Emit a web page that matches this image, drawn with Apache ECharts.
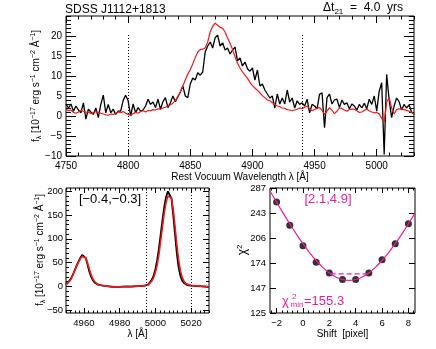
<!DOCTYPE html>
<html>
<head>
<meta charset="utf-8">
<script src="https://cdn.jsdelivr.net/npm/echarts@6/dist/echarts.min.js"></script>
<style>
  html, body { margin: 0; padding: 0; background: #fff; }
  #chart { width: 436px; height: 349px; }
</style>
</head>
<body>
<div id="chart"></div>
<script>
// ---- top panel: broad line, 2 A sampling starting at 4750
var topStart = 4750, topStep = 2;
var topBlack = [
  3.0, 2.0, 3.0, 1.2, 2.5, 1.5, 0.8, 3.3, -0.8, 1.7,
  1.0, 0.4, 2.0, -0.4, 2.9, 5.2, 0.8, 2.9, 0.8, 1.7,
  0.4, 1.2, 1.2, 3.9, 5.2, 3.8, 0.0, 3.0, 0.8, 2.1,
  1.2, 1.5, 2.5, 4.2, 2.9, 3.5, 2.1, 4.2, 1.7, 3.6,
  4.6, 2.1, 3.3, 5.0, 3.6, 4.8, 6.0, 7.5, 5.0, 4.6,
  8.0, 9.5, 9.0, 10.8, 10.2, 11.0, 16.0, 17.5, 18.5, 17.0,
  19.6, 20.2, 17.5, 18.3, 16.5, 17.0, 15.5, 16.5, 17.2, 13.8,
  14.5, 12.5, 13.5, 11.8, 11.2, 12.0, 9.0, 11.5, 7.5, 8.0,
  6.5, 5.5, 4.5, 5.0, 2.0, 5.5, 3.0, 4.5, 3.0, 6.5,
  3.5, 4.5, 2.0, 3.8, 2.9, 3.3, 2.5, 4.2, 0.8, 2.9,
  2.5, 1.8, 5.4, 5.8, -2.9, 4.6, 5.5, 3.0, 4.0, 4.2,
  2.1, 4.0, 2.9, 3.3, 1.8, 3.0, 2.5, 1.5, 2.9, 2.0,
  3.2, 1.8, 4.2, 2.9, 5.0, 1.2, 6.2, 8.3, -9.6, 10.4,
  4.0, -0.4, 2.5, 4.5, 3.6, 1.5, 2.9, 2.0, 2.8, 1.0,
  0.4
];
var topRed = [
  1.7, 1.3, 1.5, 0.9, 0.7, 1.0, 1.4, 1.2, 0.9, 1.0,
  0.6, 0.8, 1.1, 0.9, 0.7, 0.5, 0.3, 0.2, 0.5, 0.4,
  0.7, 1.0, 0.8, 1.1, 0.7, 0.4, 0.2, 0.6, 0.9, 0.7,
  1.1, 1.3, 1.0, 1.4, 1.3, 1.6, 1.5, 1.8, 1.7, 2.0,
  2.2, 2.5, 2.8, 3.2, 3.9, 4.8, 6.0, 7.5, 9.0, 10.5,
  11.6, 13.0, 14.6, 16.0, 16.6, 16.7, 17.0, 18.5, 21.0, 22.4,
  23.2, 22.7, 22.2, 21.9, 21.0, 19.5, 18.2, 16.6, 14.8, 13.2,
  12.0, 11.0, 10.2, 9.4, 8.4, 7.6, 7.0, 6.4, 5.8, 5.1,
  4.6, 4.0, 3.8, 3.3, 2.9, 2.5, 2.3, 2.0, 1.9, 1.6,
  1.5, 1.3, 1.5, 1.7, 2.0, 1.8, 2.2, 2.5, 1.8, 1.3,
  1.6, 2.0, 2.1, 1.5, 0.4, 1.2, 2.1, 1.4, 0.6, 1.2,
  2.0, 1.9, 1.5, 1.2, 1.6, 1.7, 1.7, 1.3, 0.9, 1.0,
  1.4, 1.7, 1.3, 1.0, 0.8, 0.9, 0.5, -0.6, -1.5, 3.5,
  4.6, 2.0, 0.5, 1.6, 1.8, 1.7, 1.6, 1.4, 1.2, 1.0,
  0.4
];
var topMarks = [4800, 4940];
var topMarkRange = [-10, 20.7];
var topXTicks = [4750, 4800, 4850, 4900, 4950, 5000];
var topYTicks = [-10, -5, 0, 5, 10, 15, 20];

// ---- bottom left: [O III] doublet, 1 A sampling starting at 4950
var oStart = 4950, oStep = 1;
var oBlack = [
  4, 7, 12, 18, 26, 35, 44, 52, 60, 66,
  68, 60, 47, 32, 21, 13, 8, 5, 3.5, 2.5,
  2, 1.5, 1, 0.5, 0, -0.5, -1, -1, -1, -1.5,
  -1, -1, -0.5, -0.5, -0.5, 0, -0.5, 0, 0, 0,
  0.5, 0.5, 0.5, 1, 1.5, 2, 4, 8, 14, 22,
  36, 55, 80, 110, 140, 168, 188, 200, 203, 185,
  150, 110, 70, 40, 22, 12, 7, 4, 2.5, 2,
  1.5, 1, 1, 0.5, 0.5, 0, 0, 0, -0.5, -1,
  -1.5
];
var oRed = [
  3, 6, 11, 17, 25, 34, 43, 51, 58, 63,
  64, 60, 50, 37, 25, 16, 10, 6, 3.5, 2.5,
  2, 1.5, 1, 0.5, 0, -0.5, -0.5, -1, -1, -1,
  -1, -0.5, -0.5, -0.5, 0, 0, -0.5, 0, 0, 0.5,
  0.5, 0.5, 1, 1, 1.5, 2, 3, 6, 11, 18,
  29, 45, 68, 96, 126, 155, 177, 190, 194, 186,
  162, 126, 88, 56, 33, 19, 11, 6, 4, 3,
  2, 1.5, 1, 1, 0.5, 0.5, 0, 0, 0, -0.5,
  -1
];
var oMarks = [4995, 5020];
var oXTicks = [4960, 4980, 5000, 5020];
var oYTicks = [-50, 0, 50, 100, 150, 200];

// ---- bottom right: chi2 against shift
var shifts = [-2, -1, 0, 1, 2, 3, 4, 5, 6, 7, 8];
var chi2 = [261.5, 224.0, 195.5, 175.2, 163.1, 156.2, 156.2, 163.1, 178.1, 198.1, 226.3];
var fitShift = [-2.5, -2, -1.5, -1, -0.5, 0, 0.5, 1, 1.5, 2, 2.5, 3, 3.5, 4, 4.5, 5, 5.5, 6, 6.5, 7, 7.5, 8, 8.5];
var fitChi2 = [281.3, 261.2, 242.8, 226.2, 211.3, 198.2, 186.8, 177.2, 169.3, 163.2, 158.8, 156.2, 155.3,
  156.2, 158.8, 163.2, 169.3, 177.2, 186.8, 198.2, 211.3, 226.2, 242.8];
var rangeShift = [2.1, 4.9];
var rangeChi2 = 162.2;
var shiftTicks = [-2, 0, 2, 4, 6, 8];
var chi2Labels = ['125', '147', '174', '206', '243', '287'];
var chi2Lo = 125, chi2Hi = 287;

var FONT = '"Liberation Sans", Arial, sans-serif';
var PINK = '#f01c9c';
var RED = '#f01818';

// chi2 axis is logarithmic, evenly split into chi2Labels.length - 1 steps
var nStep = chi2Labels.length - 1;
function logPos(v) {
  return (Math.log10(v) - Math.log10(chi2Lo)) / ((Math.log10(chi2Hi) - Math.log10(chi2Lo)) / nStep);
}
function pairs(start, step, arr) {
  return arr.map(function (v, i) { return [start + i * step, v]; });
}
function minors(majors, step, min, max) {
  var out = [];
  var n0 = Math.ceil(min / step - 1e-6), n1 = Math.floor(max / step + 1e-6);
  for (var n = n0; n <= n1; n++) {
    var v = Math.round(n * step * 1e6) / 1e6;
    if (majors.indexOf(v) < 0) out.push(v);
  }
  return out;
}
function minus(v) { return String(v).replace('-', '\u2212'); }

var xAxes = [], yAxes = [];
// builds the tick sets of one axis direction (labelled side + mirrored side), returns main axis index
function addAxes(dim, grid, min, max, majors, minorStep, majLen, minLen, label, nameCfg) {
  var list = dim === 'x' ? xAxes : yAxes;
  var sides = dim === 'x' ? ['bottom', 'top'] : ['left', 'right'];
  var minorVals = minorStep ? minors(majors, minorStep, min, max) : [];
  var mainIdx = list.length;
  sides.forEach(function (side, k) {
    var major = {
      type: 'value', gridIndex: grid, position: side, min: min, max: max,
      splitLine: { show: false },
      axisLine: { show: false, onZero: false },
      axisTick: { show: true, inside: true, length: majLen, customValues: majors, lineStyle: { color: '#000', width: 1 } },
      axisLabel: { show: false }
    };
    if (k === 0) {
      major.axisLabel = Object.assign({
        show: true, customValues: majors, color: '#000', fontFamily: FONT, formatter: minus
      }, label);
      if (nameCfg) Object.assign(major, nameCfg);
    }
    list.push(major);
    if (minorVals.length) {
      list.push({
        type: 'value', gridIndex: grid, position: side, min: min, max: max,
        splitLine: { show: false },
        axisLine: { show: false, onZero: false },
        axisTick: { show: true, inside: true, length: minLen, customValues: minorVals, lineStyle: { color: '#000', width: 1 } },
        axisLabel: { show: false }
      });
    }
  });
  return mainIdx;
}

function xName(text, gap) {
  return {
    name: text, nameLocation: 'middle', nameGap: gap,
    nameTextStyle: { color: '#000', fontFamily: FONT, fontSize: 10 }
  };
}

var grids = [
  { left: 66, top: 16, width: 348, height: 140 },
  { left: 66, top: 188, width: 143, height: 125 },
  { left: 270, top: 188, width: 145, height: 125 }
].map(function (g) {
  return Object.assign({ show: true, borderColor: '#000', borderWidth: 1, backgroundColor: 'transparent' }, g);
});

var tx = addAxes('x', 0, 4750, 5030, topXTicks, 10, 7, 3.5, { fontSize: 10, margin: 5 },
  xName('Rest Vocuum Wavelength λ [Å]', 16));
var ty = addAxes('y', 0, -10, 25, topYTicks, 1, 10, 5, { fontSize: 10, margin: 4 });
var ox = addAxes('x', 1, 4950, 5030, oXTicks, 2.5, 5, 2.5, { fontSize: 9.5, margin: 5 }, xName('λ [Å]', 16));
var oy = addAxes('y', 1, -56, 207, oYTicks, 10, 6, 3, { fontSize: 9.5, margin: 3 });
var cx = addAxes('x', 2, -2.5, 8.5, shiftTicks, 0.4, 5, 2.5, { fontSize: 9.5, margin: 5 }, xName('Shift  [pixel]', 16));
var cy = addAxes('y', 2, 0, nStep, [0, 1, 2, 3, 4, 5], 0, 6, 3, {
  fontSize: 9.5, margin: 4, formatter: function (v) { return chi2Labels[Math.round(v)]; }
});

// rotated y-axis titles
var fluxRich = {
  n: { fontSize: 10, lineHeight: 13, fontFamily: FONT, fill: '#000' },
  p: { fontSize: 7, lineHeight: 7, verticalAlign: 'top', fontFamily: FONT, fill: '#000' },
  b: { fontSize: 7, lineHeight: 7, verticalAlign: 'bottom', fontFamily: FONT, fill: '#000' }
};
var fluxText = '{n|f}{b|λ}{n| [10}{p|−17}{n| erg s}{p|−1}{n| cm}{p|−2}{n| Å}{p|−1}{n|]}';
function yTitle(x, y, text, rich) {
  return {
    type: 'text', x: x, y: y, rotation: Math.PI / 2,
    style: { text: text, rich: rich, align: 'center', verticalAlign: 'middle', fill: '#000' }
  };
}

function line(x, y, data, color, width, extra) {
  return Object.assign({
    type: 'line', xAxisIndex: x, yAxisIndex: y, data: data,
    showSymbol: false, symbol: 'none', silent: true,
    lineStyle: { color: color, width: width }, itemStyle: { color: color }
  }, extra || {});
}
var dotted = { type: [1, 2], color: '#000', width: 1 };

var option = {
  animation: false,
  backgroundColor: '#fff',
  grid: grids,
  xAxis: xAxes,
  yAxis: yAxes,
  series: [
    line(tx, ty, pairs(topStart, topStep, topBlack), '#000', 1.3, {
      markLine: {
        symbol: 'none', silent: true, label: { show: false }, lineStyle: dotted,
        data: topMarks.map(function (m) {
          return [{ coord: [m, topMarkRange[0]] }, { coord: [m, topMarkRange[1]] }];
        })
      }
    }),
    line(tx, ty, pairs(topStart, topStep, topRed), RED, 1.2),
    line(ox, oy, pairs(oStart, oStep, oBlack), '#000', 1.8, {
      markLine: {
        symbol: 'none', silent: true, label: { show: false }, lineStyle: dotted,
        data: oMarks.map(function (m) { return { xAxis: m }; })
      }
    }),
    line(ox, oy, pairs(oStart, oStep, oRed), RED, 1.6),
    line(cx, cy, fitShift.map(function (s, i) { return [s, logPos(fitChi2[i])]; }), PINK, 1.2, { smooth: 0.4 }),
    line(cx, cy, rangeShift.map(function (s) { return [s, logPos(rangeChi2)]; }), PINK, 1.2, {
      lineStyle: { color: PINK, width: 1.2, type: [5, 3] }
    }),
    {
      type: 'scatter', xAxisIndex: cx, yAxisIndex: cy, silent: true,
      symbolSize: 7, itemStyle: { color: '#000' },
      data: shifts.map(function (s, i) { return [s, logPos(chi2[i])]; })
    }
  ],
  graphic: [
    yTitle(36, 86, fluxText, fluxRich),
    yTitle(40, 250, fluxText, fluxRich),
    yTitle(243, 250, '{c|χ}{p|2}', {
      c: { fontSize: 12, lineHeight: 15, fontFamily: FONT, fill: '#000' },
      p: { fontSize: 8, lineHeight: 8, verticalAlign: 'top', fontFamily: FONT, fill: '#000' }
    }),
    { type: 'text', left: 65, top: 4, style: { text: 'SDSS J1112+1813', font: '12px ' + FONT, fill: '#000' } },
    {
      type: 'text', right: 33, top: 2,
      style: {
        text: '{a|Δt}{s|21}{a|  =  4.0  yrs}', fill: '#000',
        rich: {
          a: { font: '12px ' + FONT, fill: '#000', lineHeight: 16 },
          s: { font: '8px ' + FONT, fill: '#000', verticalAlign: 'bottom', lineHeight: 10 }
        }
      }
    },
    { type: 'text', x: 110, y: 199, style: { text: '[−0.4,−0.3]', font: '13px ' + FONT, fill: '#000', align: 'center', verticalAlign: 'middle' } },
    { type: 'text', x: 328, y: 199, style: { text: '[2.1,4.9]', font: '13px ' + FONT, fill: PINK, align: 'center', verticalAlign: 'middle' } },
    { type: 'text', x: 282, y: 308, style: { text: 'χ', font: '13px ' + FONT, fill: PINK, verticalAlign: 'bottom' } },
    { type: 'text', x: 290.5, y: 309, style: { text: 'min', font: '8px ' + FONT, fill: PINK, verticalAlign: 'bottom' } },
    { type: 'text', x: 292, y: 301, style: { text: '2', font: '8px ' + FONT, fill: PINK, verticalAlign: 'bottom' } },
    { type: 'text', x: 304, y: 308, style: { text: '=155.3', font: '13px ' + FONT, fill: PINK, verticalAlign: 'bottom' } }
  ]
};

var chart = echarts.init(document.getElementById('chart'));
chart.setOption(option);
</script>
</body>
</html>
